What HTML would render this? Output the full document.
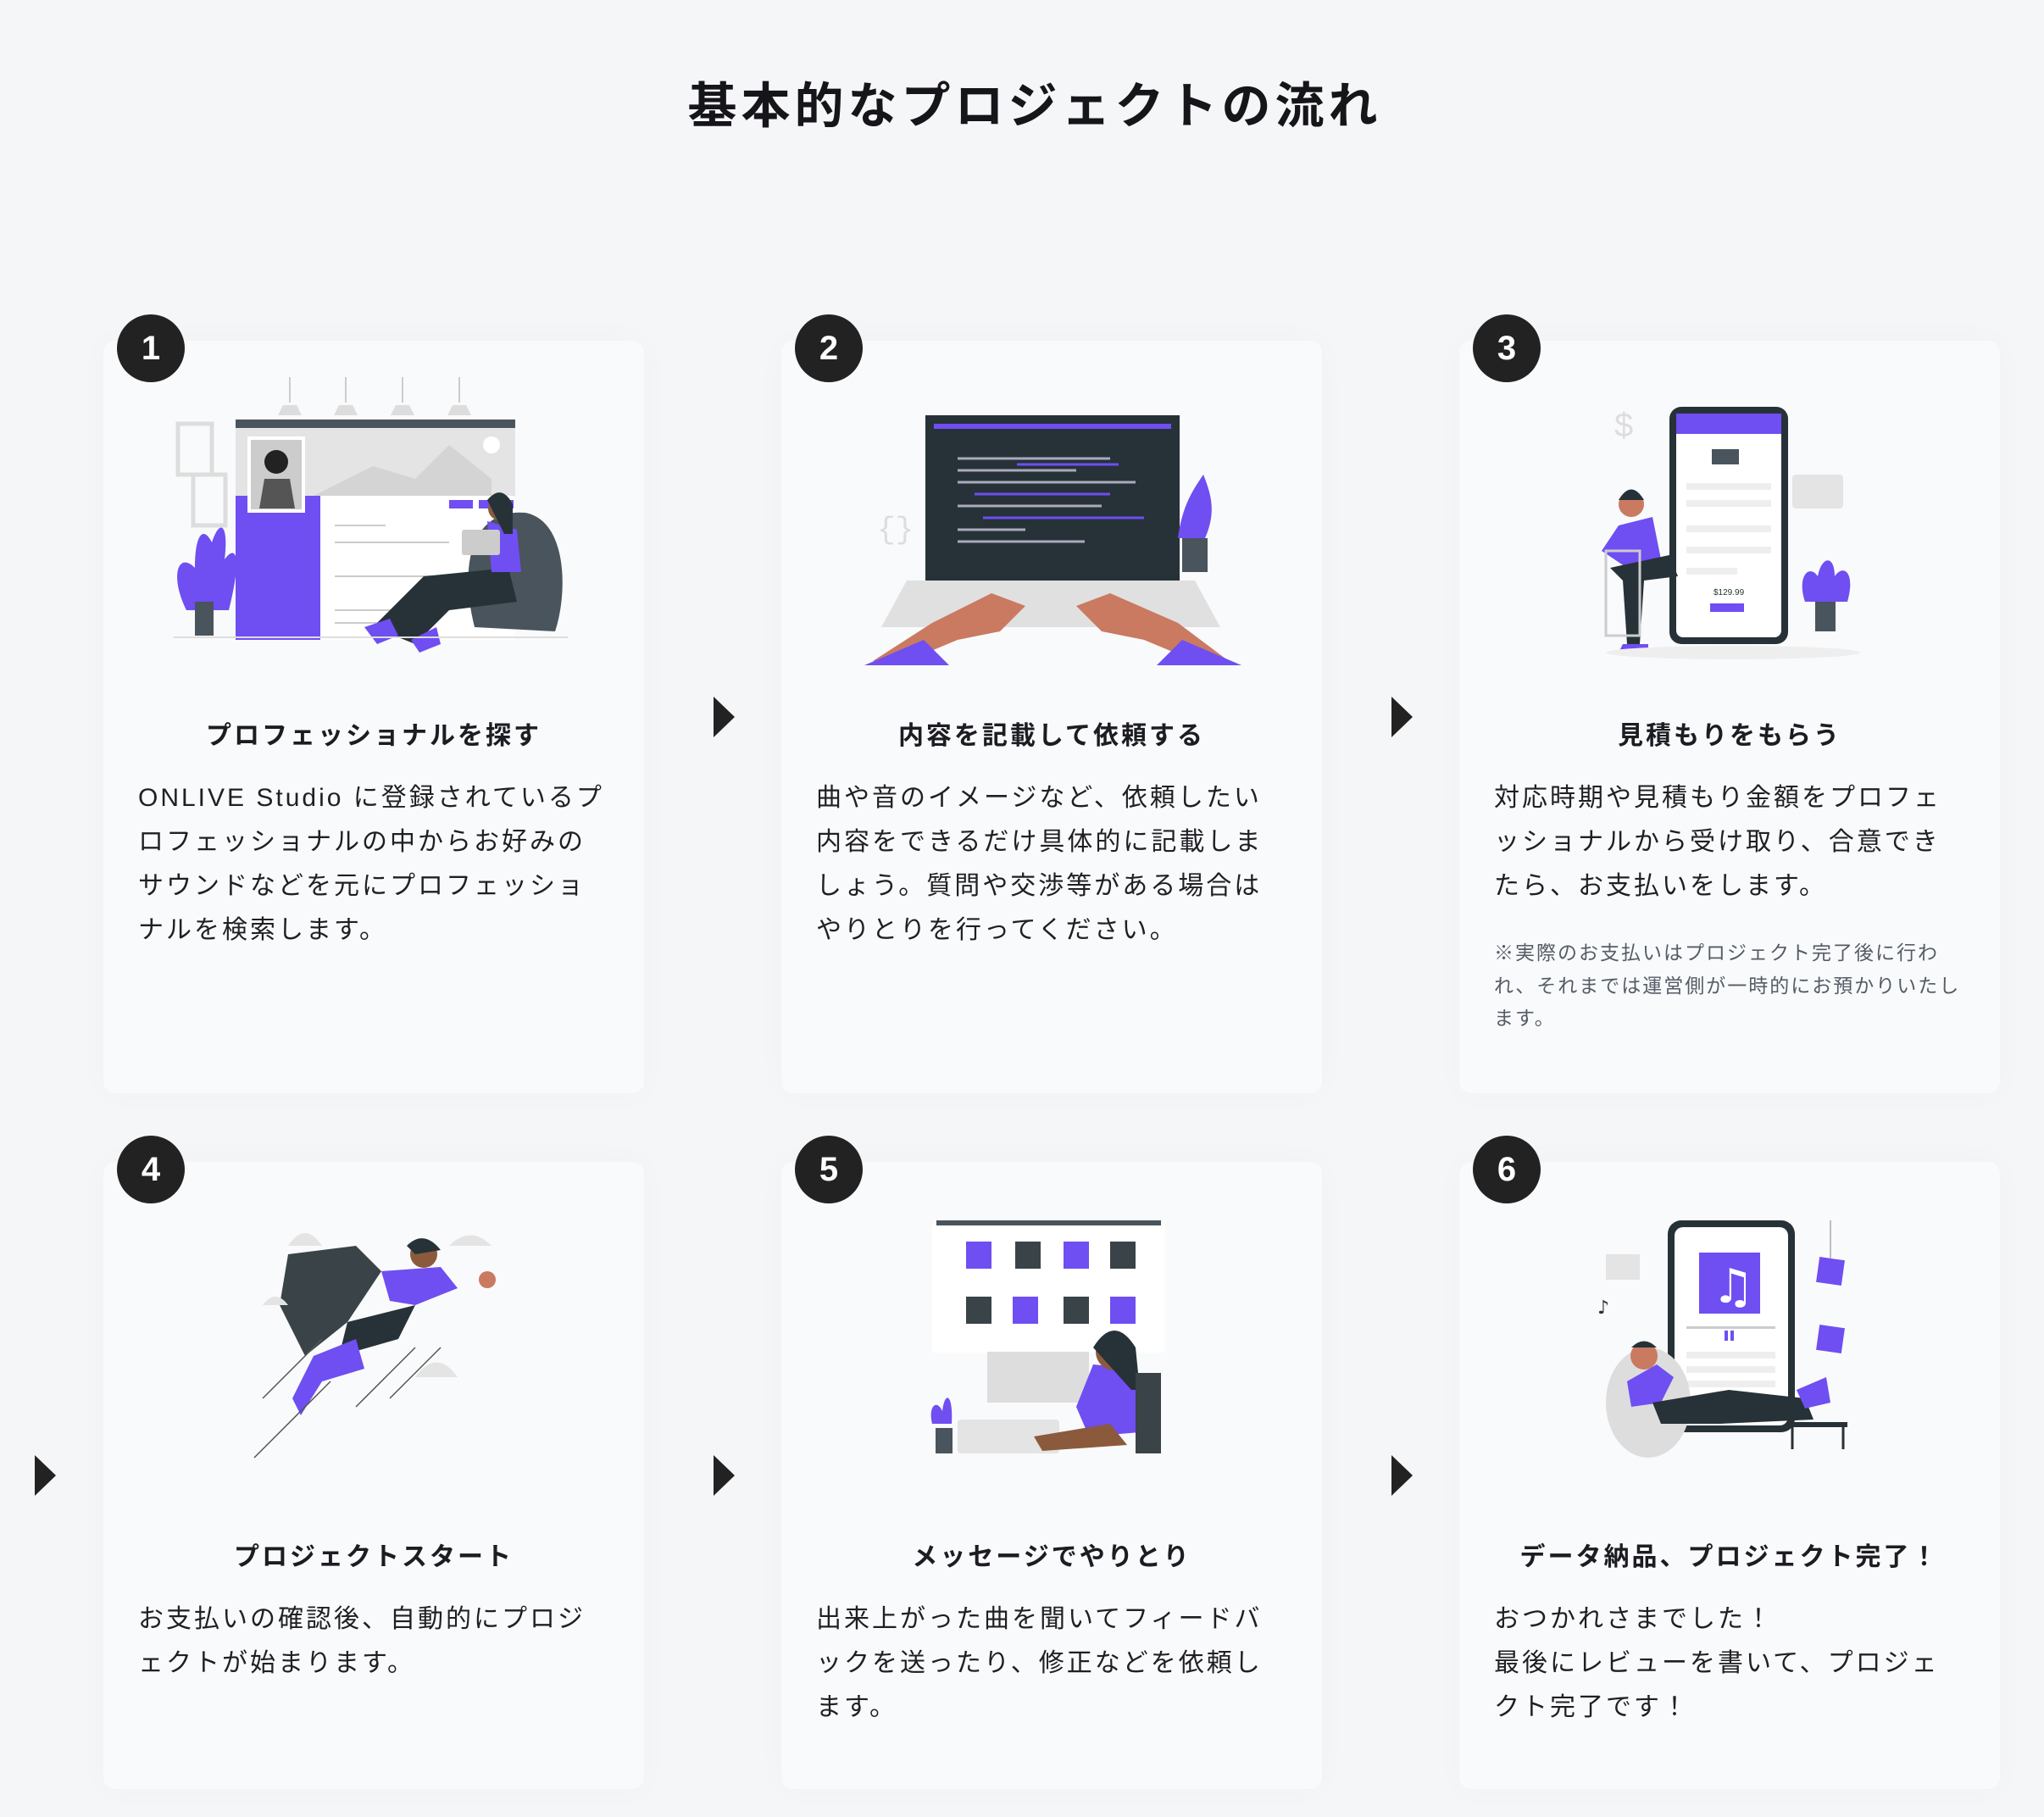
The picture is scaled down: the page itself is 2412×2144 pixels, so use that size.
<!DOCTYPE html>
<html><head><meta charset="utf-8">
<style>
*{margin:0;padding:0;box-sizing:border-box}
body{width:2412px;height:2144px;background:#f5f6f8;position:relative;overflow:hidden;font-family:"Liberation Sans","Noto Sans CJK JP",sans-serif;color:#1c1c22}
.title{position:absolute;left:0;width:2412px;top:89px;text-align:center;font-size:58px;font-weight:bold;letter-spacing:5px;line-height:74px;color:#15151a;padding-left:30px}
.card{position:absolute;width:638px;background:#f9fafb;border-radius:14px;box-shadow:0 0 40px rgba(0,0,0,0.025)}
.num{position:absolute;width:80px;height:80px;border-radius:50%;background:#222;color:#fff;font-size:40px;font-weight:bold;text-align:center;line-height:80px}
.h{position:absolute;width:638px;text-align:center;font-size:30px;font-weight:bold;letter-spacing:3px;line-height:40px;white-space:nowrap}
.b{position:absolute;font-size:30px;letter-spacing:3px;line-height:52px;white-space:nowrap;color:#1f1f24}
.n{position:absolute;font-size:23px;letter-spacing:2px;line-height:38.5px;white-space:nowrap;color:#555c66}
.arr{position:absolute;width:0;height:0;border-top:24px solid transparent;border-bottom:24px solid transparent;border-left:25px solid #222}
svg{position:absolute}
</style></head><body>
<div class="title">基本的なプロジェクトの流れ</div>

<div class="card" style="left:122px;top:402px;height:888px"></div>
<div class="card" style="left:922px;top:402px;height:888px"></div>
<div class="card" style="left:1722px;top:402px;height:888px"></div>
<div class="card" style="left:122px;top:1371px;height:740px"></div>
<div class="card" style="left:922px;top:1371px;height:740px"></div>
<div class="card" style="left:1722px;top:1371px;height:740px"></div>

<div class="num" style="left:138px;top:371px">1</div>
<div class="num" style="left:938px;top:371px">2</div>
<div class="num" style="left:1738px;top:371px">3</div>
<div class="num" style="left:138px;top:1340px">4</div>
<div class="num" style="left:938px;top:1340px">5</div>
<div class="num" style="left:1738px;top:1340px">6</div>

<div class="arr" style="left:842px;top:822px"></div>
<div class="arr" style="left:1642px;top:822px"></div>
<div class="arr" style="left:41px;top:1717px"></div>
<div class="arr" style="left:842px;top:1717px"></div>
<div class="arr" style="left:1642px;top:1717px"></div>

<!-- illustration 1 -->
<svg style="left:200px;top:440px" width="480" height="340" viewBox="0 0 480 340">
<g stroke="#ccc" stroke-width="2"><line x1="142" y1="5" x2="142" y2="35"/><line x1="208" y1="5" x2="208" y2="35"/><line x1="275" y1="5" x2="275" y2="35"/><line x1="342" y1="5" x2="342" y2="35"/></g>
<g fill="#ddd"><path d="M128 50 L156 50 L150 38 L134 38Z"/><path d="M194 50 L222 50 L216 38 L200 38Z"/><path d="M261 50 L289 50 L283 38 L267 38Z"/><path d="M328 50 L356 50 L350 38 L334 38Z"/></g>
<rect x="10" y="60" width="40" height="60" fill="none" stroke="#ddd" stroke-width="5"/>
<rect x="28" y="120" width="38" height="60" fill="none" stroke="#ddd" stroke-width="5"/>
<rect x="78" y="55" width="330" height="10" fill="#4a545c"/>
<rect x="78" y="65" width="330" height="80" fill="#e4e4e4"/>
<path d="M170 145 L240 110 L290 125 L330 85 L380 125 L380 145Z" fill="#d4d4d4"/>
<circle cx="380" cy="85" r="10" fill="#fff"/>
<rect x="78" y="145" width="100" height="170" fill="#6f4ef2"/>
<rect x="178" y="145" width="230" height="170" fill="#fff"/>
<rect x="92" y="75" width="68" height="90" fill="#fff"/><rect x="96" y="79" width="60" height="82" fill="#ccc"/>
<circle cx="126" cy="105" r="14" fill="#222"/><path d="M106 160 L112 125 L142 125 L148 160Z" fill="#555"/>
<g fill="#6f4ef2"><rect x="330" y="150" width="28" height="10"/><rect x="365" y="150" width="28" height="10"/><rect x="398" y="150" width="8" height="10"/></g>
<g stroke="#ccc" stroke-width="2"><line x1="195" y1="180" x2="255" y2="180"/><line x1="195" y1="200" x2="330" y2="200"/><line x1="195" y1="240" x2="310" y2="240"/><line x1="195" y1="280" x2="300" y2="280"/><line x1="195" y1="295" x2="290" y2="295"/></g>
<path d="M360 300 C340 220 360 160 420 165 C470 175 470 260 455 305Z" fill="#4a545c"/>
<path d="M240 300 L300 240 L400 230 L410 270 L330 280 L290 320Z" fill="#263238"/>
<path d="M375 175 L410 185 L415 235 L380 235Z" fill="#6f4ef2"/>
<circle cx="390" cy="160" r="14" fill="#8b5a3c"/><path d="M375 150 Q392 130 405 155 L405 190 L395 190Z" fill="#263238"/>
<rect x="345" y="185" width="45" height="30" rx="3" fill="#ccc"/>
<path d="M230 300 L260 290 L270 310 L245 320Z" fill="#6f4ef2"/>
<path d="M285 315 L315 300 L320 320 L295 330Z" fill="#6f4ef2"/>
<path d="M20 280 C0 240 10 210 30 230 C30 190 40 180 50 200 C60 170 70 180 65 220 C80 200 85 220 70 280Z" fill="#6f4ef2"/>
<rect x="30" y="270" width="22" height="40" fill="#4a545c"/>
<line x1="5" y1="312" x2="470" y2="312" stroke="#ddd" stroke-width="2"/>
</svg>

<!-- illustration 2 -->
<svg style="left:1010px;top:485px" width="470" height="300" viewBox="0 0 470 300">
<rect x="82" y="5" width="300" height="195" fill="#263238"/>
<rect x="92" y="15" width="280" height="6" fill="#6f4ef2"/>
<g stroke="#aab" stroke-width="3"><line x1="120" y1="56" x2="300" y2="56"/><line x1="120" y1="70" x2="260" y2="70"/><line x1="120" y1="84" x2="330" y2="84"/><line x1="120" y1="112" x2="290" y2="112"/><line x1="120" y1="140" x2="200" y2="140"/><line x1="120" y1="154" x2="270" y2="154"/></g>
<g stroke="#6f4ef2" stroke-width="3"><line x1="190" y1="63" x2="310" y2="63"/><line x1="140" y1="98" x2="300" y2="98"/><line x1="150" y1="126" x2="340" y2="126"/></g>
<path d="M60 200 L400 200 L430 255 L30 255Z" fill="#e0e0e0"/>
<path d="M20 295 L90 250 L160 215 L200 230 L170 260 L120 270 L60 295Z" fill="#c97a60"/>
<path d="M440 295 L380 250 L300 215 L260 230 L290 260 L340 270 L400 295Z" fill="#c97a60"/>
<path d="M10 300 L80 270 L110 300Z" fill="#6f4ef2"/><path d="M455 300 L385 270 L355 300Z" fill="#6f4ef2"/>
<path d="M380 150 C385 110 400 90 410 75 C420 100 425 120 412 150Z" fill="#6f4ef2"/>
<rect x="385" y="150" width="30" height="40" fill="#4a545c"/>
<text x="25" y="150" font-size="36" fill="#ddd" font-family="Liberation Mono">{}</text>
</svg>

<!-- illustration 3 -->
<svg style="left:1880px;top:470px" width="330" height="320" viewBox="0 0 330 320">
<rect x="90" y="10" width="140" height="280" rx="14" fill="#263238"/>
<rect x="98" y="18" width="124" height="264" rx="8" fill="#fff"/>
<rect x="98" y="18" width="124" height="24" fill="#6f4ef2"/>
<rect x="140" y="60" width="32" height="18" fill="#4a545c"/>
<g fill="#eee"><rect x="110" y="100" width="100" height="8"/><rect x="110" y="120" width="100" height="8"/><rect x="110" y="150" width="100" height="8"/><rect x="110" y="175" width="100" height="8"/><rect x="110" y="200" width="60" height="8"/></g>
<text x="142" y="232" font-size="10" fill="#263238" font-family="Liberation Sans">$129.99</text>
<rect x="138" y="242" width="40" height="10" fill="#6f4ef2"/>
<rect x="235" y="90" width="60" height="40" rx="4" fill="#e4e4e4"/>
<path d="M10 180 L30 150 L70 140 L80 190 L40 200Z" fill="#6f4ef2"/>
<circle cx="45" cy="125" r="15" fill="#c97a60"/><path d="M30 120 Q45 95 60 120Z" fill="#263238"/>
<path d="M20 200 L90 185 L100 210 L60 215 L55 290 L40 290 L35 215Z" fill="#263238"/>
<path d="M35 290 L65 290 L65 300 L30 300Z" fill="#6f4ef2"/>
<rect x="15" y="180" width="40" height="100" fill="none" stroke="#ccc" stroke-width="3"/>
<path d="M250 240 C240 210 255 195 265 210 C270 185 285 185 285 210 C295 195 310 205 300 240Z" fill="#6f4ef2"/>
<rect x="262" y="240" width="24" height="35" fill="#4a545c"/>
<ellipse cx="165" cy="300" rx="150" ry="8" fill="#eee"/>
<text x="25" y="45" font-size="40" fill="#ddd" font-family="Liberation Sans">$</text>
</svg>

<!-- illustration 4 -->
<svg style="left:290px;top:1440px" width="340" height="320" viewBox="0 0 340 320">
<path d="M50 40 L130 30 L160 60 L120 120 L70 160 L40 100Z" fill="#3a4347"/>
<circle cx="210" cy="40" r="16" fill="#8b5a3c"/><path d="M190 30 Q210 10 230 35 L200 40Z" fill="#263238"/>
<path d="M160 60 L230 55 L250 80 L200 100 L170 95Z" fill="#6f4ef2"/>
<path d="M120 120 L200 100 L180 140 L110 160Z" fill="#263238"/>
<path d="M80 160 L130 140 L140 175 L90 190 L65 230 L55 210Z" fill="#6f4ef2"/>
<circle cx="285" cy="70" r="10" fill="#c97a60"/>
<g stroke="#555" stroke-width="1.5"><line x1="20" y1="210" x2="90" y2="140"/><line x1="10" y1="280" x2="100" y2="190"/><line x1="130" y1="220" x2="200" y2="150"/><line x1="170" y1="210" x2="230" y2="150"/></g>
<g fill="#e4e4e4"><path d="M50 30 Q70 0 90 30Z"/><path d="M240 30 Q265 5 290 30Z"/><path d="M200 185 Q225 150 250 185Z"/><path d="M20 100 Q35 80 50 100Z"/></g>
</svg>

<!-- illustration 5 -->
<svg style="left:1090px;top:1440px" width="310" height="300" viewBox="0 0 310 300">
<rect x="15" y="0" width="265" height="6" fill="#4a545c"/>
<rect x="10" y="6" width="275" height="150" fill="#fff"/>
<g fill="#6f4ef2"><rect x="50" y="25" width="30" height="32"/><rect x="165" y="25" width="30" height="32"/><rect x="105" y="90" width="30" height="32"/><rect x="220" y="90" width="30" height="32"/></g>
<g fill="#3a4347"><rect x="108" y="25" width="30" height="32"/><rect x="220" y="25" width="30" height="32"/><rect x="50" y="90" width="30" height="32"/><rect x="165" y="90" width="30" height="32"/></g>
<rect x="75" y="155" width="120" height="60" fill="#ddd"/>
<rect x="40" y="235" width="120" height="40" rx="4" fill="#e4e4e4"/>
<path d="M180 220 L200 170 L250 175 L255 250 L195 255Z" fill="#6f4ef2"/>
<circle cx="225" cy="155" r="22" fill="#8b5a3c"/><path d="M200 150 Q225 110 250 150 L255 200 L245 200Z" fill="#263238"/>
<rect x="250" y="180" width="30" height="95" fill="#3a4347"/>
<path d="M130 255 L220 240 L240 265 L140 272Z" fill="#8b5a3c"/>
<path d="M10 240 C5 220 15 210 22 225 C25 200 35 205 33 240Z" fill="#6f4ef2"/>
<rect x="14" y="245" width="20" height="30" fill="#4a545c"/>
</svg>

<!-- illustration 6 -->
<svg style="left:1880px;top:1440px" width="330" height="320" viewBox="0 0 330 320">
<rect x="88" y="0" width="150" height="250" rx="16" fill="#263238"/>
<rect x="96" y="8" width="134" height="234" rx="10" fill="#fff"/>
<rect x="125" y="38" width="72" height="72" fill="#6f4ef2"/>
<text x="140" y="97" font-size="56" fill="#fff" font-family="DejaVu Sans">♫</text>
<rect x="110" y="125" width="105" height="3" fill="#ccc"/>
<g fill="#6f4ef2"><rect x="155" y="130" width="4" height="12"/><rect x="162" y="130" width="4" height="12"/></g>
<g fill="#eee"><rect x="110" y="155" width="105" height="8"/><rect x="110" y="172" width="105" height="8"/><rect x="110" y="189" width="105" height="8"/></g>
<ellipse cx="65" cy="215" rx="50" ry="65" fill="#ddd"/>
<path d="M40 190 L75 170 L95 185 L80 215 L45 220Z" fill="#6f4ef2"/>
<circle cx="60" cy="160" r="16" fill="#c97a60"/><path d="M45 150 Q60 135 75 150Z" fill="#263238"/>
<path d="M70 215 L160 200 L250 210 L260 235 L150 240 L80 240Z" fill="#263238"/>
<path d="M240 200 L275 185 L280 215 L250 222Z" fill="#6f4ef2"/>
<rect x="230" y="238" width="70" height="6" fill="#263238"/>
<g stroke="#263238" stroke-width="3"><line x1="235" y1="244" x2="235" y2="270"/><line x1="295" y1="244" x2="295" y2="270"/></g>
<rect x="265" y="45" width="30" height="30" fill="#6f4ef2" transform="rotate(8 280 60)"/>
<rect x="265" y="125" width="30" height="30" fill="#6f4ef2" transform="rotate(8 280 140)"/>
<line x1="280" y1="0" x2="280" y2="45" stroke="#aaa" stroke-width="1.5"/>
<text x="5" y="110" font-size="22" fill="#263238" font-family="DejaVu Sans">♪</text>
<rect x="15" y="40" width="40" height="30" fill="#e4e4e4"/>
</svg>

<!-- headings & text -->
<div class="h" style="left:122px;top:849px">プロフェッショナルを探す</div>
<div class="h" style="left:922px;top:849px">内容を記載して依頼する</div>
<div class="h" style="left:1722px;top:849px">見積もりをもらう</div>
<div class="h" style="left:122px;top:1818px">プロジェクトスタート</div>
<div class="h" style="left:922px;top:1818px">メッセージでやりとり</div>
<div class="h" style="left:1722px;top:1818px">データ納品、プロジェクト完了！</div>

<div class="b" style="left:163px;top:916px">ONLIVE Studio に登録されているプ<br>ロフェッショナルの中からお好みの<br>サウンドなどを元にプロフェッショ<br>ナルを検索します。</div>
<div class="b" style="left:963px;top:916px">曲や音のイメージなど、依頼したい<br>内容をできるだけ具体的に記載しま<br>しょう。質問や交渉等がある場合は<br>やりとりを行ってください。</div>
<div class="b" style="left:1763px;top:916px">対応時期や見積もり金額をプロフェ<br>ッショナルから受け取り、合意でき<br>たら、お支払いをします。</div>
<div class="n" style="left:1763px;top:1105px">※実際のお支払いはプロジェクト完了後に行わ<br>れ、それまでは運営側が一時的にお預かりいたし<br>ます。</div>
<div class="b" style="left:163px;top:1885px">お支払いの確認後、自動的にプロジ<br>ェクトが始まります。</div>
<div class="b" style="left:963px;top:1885px">出来上がった曲を聞いてフィードバ<br>ックを送ったり、修正などを依頼し<br>ます。</div>
<div class="b" style="left:1763px;top:1885px">おつかれさまでした！<br>最後にレビューを書いて、プロジェ<br>クト完了です！</div>
</body></html>
